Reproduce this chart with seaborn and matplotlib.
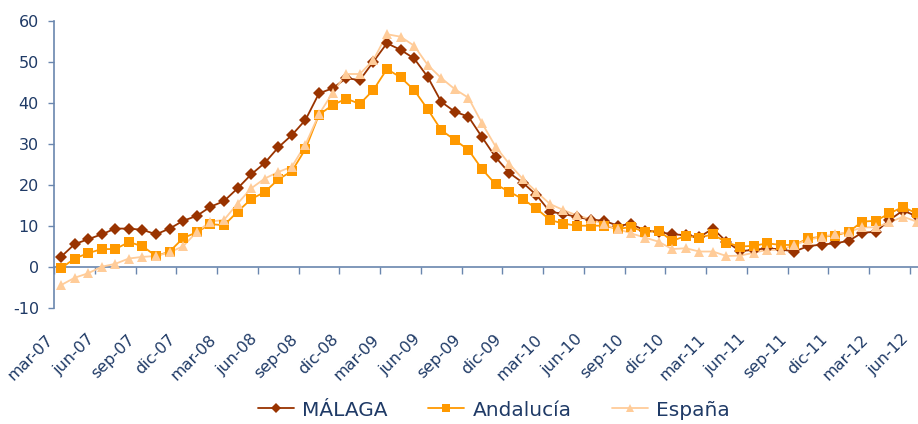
import numpy as np
import pandas as pd
import matplotlib
matplotlib.use("Agg")
import matplotlib.pyplot as plt
import matplotlib.transforms as mtransforms
from matplotlib.lines import Line2D
import seaborn as sns

# ---------------- data ----------------
meses = ['ene', 'feb', 'mar', 'abr', 'may', 'jun', 'jul', 'ago', 'sep', 'oct', 'nov', 'dic']
periodos = pd.period_range('2007-03', '2012-06', freq='M')
categorias = [f"{meses[p.month - 1]}-{p.year % 100:02d}" for p in periodos]

malaga = [2.4, 5.5, 6.7, 7.9, 9.3, 9.3, 9.0, 7.9, 9.3, 11.2, 12.4, 14.6, 16.0, 19.1, 22.5, 25.3,
          29.1, 32.1, 35.8, 42.3, 43.5, 46.0, 45.5, 50.0, 54.5, 52.9, 50.8, 46.3, 40.2, 37.8, 36.6, 31.6,
          26.7, 22.9, 20.5, 17.5, 13.4, 12.9, 12.1, 11.5, 11.2, 10.0, 10.4, 8.8, 8.5, 7.9, 7.7, 7.2,
          9.3, 6.1, 3.8, 4.1, 4.5, 4.2, 3.7, 5.0, 5.4, 5.7, 6.3, 8.3, 8.5, 11.4, 13.7, 12.3]
andalucia = [-0.4, 2.0, 3.3, 4.3, 4.3, 6.0, 5.0, 2.6, 3.7, 7.0, 8.4, 10.4, 10.1, 13.4, 16.5, 18.2,
             21.3, 23.3, 28.7, 37.1, 39.4, 41.0, 39.7, 43.1, 48.2, 46.2, 43.1, 38.4, 33.3, 30.9, 28.5, 23.8,
             20.1, 18.3, 16.5, 14.2, 11.4, 10.5, 10.0, 10.0, 10.0, 9.2, 9.7, 8.4, 8.8, 6.3, 7.5, 7.1,
             7.9, 5.9, 4.9, 5.1, 5.7, 5.3, 5.3, 6.9, 7.3, 7.6, 8.5, 11.0, 11.2, 13.0, 14.6, 13.0]
espana = [-4.5, -2.7, -1.6, 0.0, 0.7, 2.0, 2.4, 2.6, 3.5, 5.0, 8.5, 11.0, 11.4, 15.4, 19.1, 21.5,
          23.1, 24.4, 29.8, 37.2, 42.4, 47.0, 47.0, 50.4, 56.7, 56.1, 53.9, 49.2, 46.0, 43.3, 41.2, 35.0,
          29.3, 25.1, 21.4, 18.3, 15.3, 13.8, 12.5, 11.6, 10.3, 9.2, 8.1, 7.1, 6.1, 4.3, 4.5, 3.7,
          3.7, 2.6, 2.7, 3.4, 4.1, 4.1, 5.3, 6.5, 7.3, 7.9, 8.5, 9.6, 9.6, 10.8, 12.2, 11.0]

series_nombres = ['MÁLAGA', 'Andalucía', 'España']
etiquetas_x = ['mar-07', 'jun-07', 'sep-07', 'dic-07', 'mar-08', 'jun-08', 'sep-08', 'dic-08',
               'mar-09', 'jun-09', 'sep-09', 'dic-09', 'mar-10', 'jun-10', 'sep-10', 'dic-10',
               'mar-11', 'jun-11', 'sep-11', 'dic-11', 'mar-12', 'jun-12']
y_ticks = [-10, 0, 10, 20, 30, 40, 50, 60]

# ---------------- styles ----------------
colores = {'MÁLAGA': '#993300', 'Andalucía': '#FF9900', 'España': '#FFCC99'}
marcadores = {'MÁLAGA': 'D', 'Andalucía': 's', 'España': '^'}
tam = {'MÁLAGA': 6.3, 'Andalucía': 6.5, 'España': 7.5}
texto = '#1F3A66'
eje = '#6A86AE'

df = pd.DataFrame({'idx': np.arange(len(categorias)), 'fecha': categorias,
                   'MÁLAGA': malaga, 'Andalucía': andalucia, 'España': espana})
largo = df.melt(id_vars=['idx', 'fecha'], var_name='serie', value_name='valor')

sns.set_theme(style='white')
plt.rcParams['font.family'] = ['DejaVu Sans']

W, H = 918, 424
fig = plt.figure(figsize=(W / 100, H / 100), dpi=100)
x0, x1 = 54.2, 923.4
ytop, ybot = 20.7, 307.7
ax = fig.add_axes([x0 / W, (H - ybot) / H, (x1 - x0) / W, (ybot - ytop) / H])

# lines first (all series), then markers in series order
for s in series_nombres:
    sub = largo[largo['serie'] == s]
    sns.lineplot(data=sub, x='idx', y='valor', ax=ax, color=colores[s], linewidth=1.3,
                 sort=False, legend=False, zorder=2)
for k, s in enumerate(series_nombres):
    sub = largo[largo['serie'] == s]
    sns.lineplot(data=sub, x='idx', y='valor', ax=ax, color=colores[s], linestyle='',
                 marker=marcadores[s], markersize=tam[s], markeredgewidth=0,
                 sort=False, legend=False, zorder=3 + k)

ax.set_xlim(-0.5, len(categorias) - 0.5)
ax.set_ylim(-10, 60)
ax.set_xlabel('')
ax.set_ylabel('')

# y axis
ax.set_yticks(y_ticks)
ax.set_yticklabels([str(v) for v in y_ticks])
ax.tick_params(axis='y', direction='out', length=4, width=1, color=eje, pad=7,
               labelsize=11.5, labelcolor=texto, left=True)
for sp in ['top', 'right', 'bottom']:
    ax.spines[sp].set_visible(False)
ax.spines['left'].set_color(eje)
ax.spines['left'].set_linewidth(1.2)

# x labels at bottom
pos_lab = [categorias.index(e) for e in etiquetas_x]
ax.set_xticks(pos_lab)
ax.set_xticklabels(etiquetas_x, rotation=45, ha='right', va='center', rotation_mode='anchor')
ax.tick_params(axis='x', length=0, pad=21, labelsize=11.5, labelcolor=texto)
off = mtransforms.ScaledTranslation(-10 / 100, 0, fig.dpi_scale_trans)
for lab in ax.get_xticklabels():
    lab.set_transform(lab.get_transform() + off)

# category axis crossing at y = 0
sec = ax.secondary_xaxis(10 / 70)
sec.set_xticks(np.arange(-0.5, len(categorias), 3))
sec.set_xticklabels([])
sec.tick_params(axis='x', direction='out', length=5, width=1, color=eje)
sec.spines['bottom'].set_color(eje)
sec.spines['bottom'].set_linewidth(1.2)

ax.grid(False)

# legend
handles = [Line2D([0], [0], color=colores[s], marker=marcadores[s], markersize=tam[s] * 0.8,
                  markeredgewidth=0, linewidth=1.3) for s in series_nombres]
fig.legend(handles, series_nombres, loc='center', bbox_to_anchor=(494 / W, 1 - 410 / H),
           ncol=3, frameon=False, fontsize=14.5, handlelength=1.8, handletextpad=0.4,
           columnspacing=2.0, labelcolor=texto)

fig.savefig('out.png', dpi=100)
